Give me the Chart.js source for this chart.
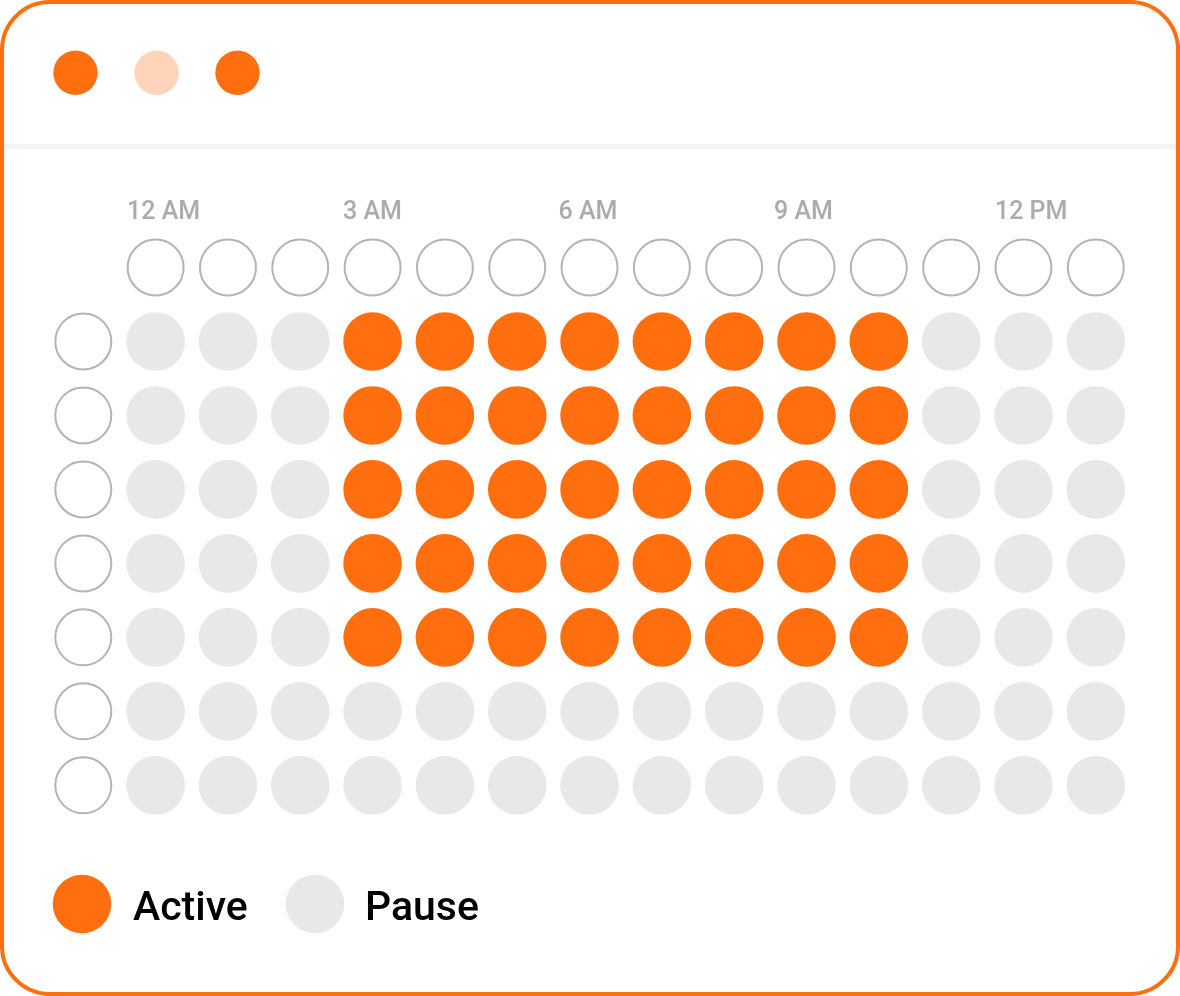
<!DOCTYPE html>
<html>
<head>
<meta charset="utf-8">
<style>
  html, body { margin: 0; padding: 0; background: #ffffff; }
  #wrap { width: 1180px; height: 996px; }
</style>
<script src="https://cdn.jsdelivr.net/npm/chart.js@4.4.1/dist/chart.umd.min.js"></script>
</head>
<body>
<div id="wrap"><canvas id="c" width="1180" height="996"></canvas></div>
<script>
// ---- data ----
const hourColumns = 14;                     // hour slots (columns 1..14)
const dayRows = 7;                          // rows 1..7
const tickLabels = ['12 AM', '3 AM', '6 AM', '9 AM', '12 PM'];
const tickColumns = [1, 4, 7, 10, 13];
const row1 = [0,0,0,1,1,1,1,1,1,1,1,0,0,0];
const row2 = [0,0,0,1,1,1,1,1,1,1,1,0,0,0];
const row3 = [0,0,0,1,1,1,1,1,1,1,1,0,0,0];
const row4 = [0,0,0,1,1,1,1,1,1,1,1,0,0,0];
const row5 = [0,0,0,1,1,1,1,1,1,1,1,0,0,0];
const row6 = [0,0,0,0,0,0,0,0,0,0,0,0,0,0];
const row7 = [0,0,0,0,0,0,0,0,0,0,0,0,0,0];
const legendLabels = ['Active', 'Pause'];

// ---- styles ----
const ORANGE = '#FF6F0F';
const PEACH = '#FFD4B8';
const GRAY = '#E8E8E8';
const OUTLINE = '#B4B4B4';
const TICK_NUDGE = [0, -1, -2.5, -4, 0];   // small per-label horizontal nudges (px)

const rows = [row1, row2, row3, row4, row5, row6, row7];
const activePts = [], pausePts = [];
rows.forEach((r, ri) => r.forEach((v, ci) => {
  (v ? activePts : pausePts).push({ x: ci + 1, y: ri + 1 });
}));
const headerPts = [];
for (let c = 1; c <= hourColumns; c++) headerPts.push({ x: c, y: 0 });
const rowHeadPts = [];
for (let r = 1; r <= dayRows; r++) rowHeadPts.push({ x: 0, y: r });

const framePlugin = {
  id: 'frame',
  beforeDraw(chart) {
    const ctx = chart.ctx;
    ctx.save();
    ctx.fillStyle = '#ffffff';
    ctx.fillRect(0, 0, chart.width, chart.height);
    // separator
    ctx.fillStyle = '#F4F4F4';
    ctx.fillRect(4, 144, 1172, 5);
    // window frame
    ctx.strokeStyle = ORANGE;
    ctx.lineWidth = 4;
    ctx.beginPath();
    ctx.roundRect(2, 2, 1176, 992, 48);
    ctx.stroke();
    // window dots
    [[75.5, ORANGE], [156.7, PEACH], [237.5, ORANGE]].forEach(([x, col]) => {
      ctx.fillStyle = col;
      ctx.beginPath();
      ctx.arc(x, 72.7, 22.2, 0, Math.PI * 2);
      ctx.fill();
    });
    ctx.restore();
  },
  afterDraw(chart) {
    const ctx = chart.ctx;
    const xs = chart.scales.x;
    ctx.save();
    // column tick labels
    ctx.fillStyle = '#ABABAB';
    ctx.font = '500 25px Roboto';
    ctx.textAlign = 'left';
    ctx.textBaseline = 'alphabetic';
    tickLabels.forEach((t, i) => {
      const px = xs.getPixelForValue(tickColumns[i]);
      ctx.fillText(t, px - 28.5 + TICK_NUDGE[i], 219);
    });
    // legend
    const items = [[82, ORANGE, 133], [315, GRAY, 365]];
    items.forEach(([cx, col, tx], i) => {
      ctx.fillStyle = col;
      ctx.beginPath();
      ctx.arc(cx, 904, 29.3, 0, Math.PI * 2);
      ctx.fill();
      ctx.fillStyle = '#000000';
      ctx.font = '500 41px Roboto';
      ctx.fillText(legendLabels[i], tx, 920);
    });
    ctx.restore();
  }
};

const filled = (data, color) => ({
  data, pointStyle: 'circle', pointRadius: 29.3, pointHoverRadius: 29.3,
  backgroundColor: color, borderColor: color, borderWidth: 0, clip: false
});
const outlined = (data) => ({
  data, pointStyle: 'circle', pointRadius: 28, pointHoverRadius: 28,
  backgroundColor: 'rgba(255,255,255,0)', borderColor: OUTLINE, borderWidth: 2, clip: false
});

new Chart(document.getElementById('c'), {
  type: 'scatter',
  data: {
    datasets: [
      outlined(headerPts),
      outlined(rowHeadPts),
      filled(activePts, ORANGE),
      filled(pausePts, GRAY)
    ]
  },
  options: {
    responsive: false,
    animation: false,
    events: [],
    layout: { padding: { left: 47.14, right: 48.04, top: 230.5, bottom: 173.7 } },
    scales: {
      x: { type: 'linear', min: -0.5, max: 14.5, display: false },
      y: { type: 'linear', min: -0.5, max: 7.5, reverse: true, display: false }
    },
    plugins: { legend: { display: false }, tooltip: { enabled: false } }
  },
  plugins: [framePlugin]
});
</script>
</body>
</html>
